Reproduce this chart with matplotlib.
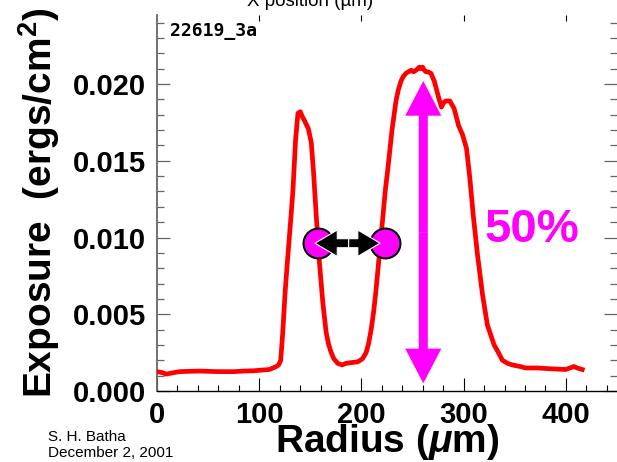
import matplotlib
matplotlib.use("Agg")
import matplotlib.pyplot as plt
from matplotlib.patches import FancyArrowPatch
from matplotlib.ticker import MultipleLocator, FormatStrFormatter

plt.rcParams['font.family'] = ['Liberation Sans', 'DejaVu Sans']
plt.rcParams['mathtext.fontset'] = 'custom'
plt.rcParams['mathtext.rm'] = 'Liberation Sans:bold'
plt.rcParams['mathtext.bf'] = 'Liberation Sans:bold'
plt.rcParams['mathtext.it'] = 'Liberation Sans:bold:italic'

# ---- data ----
radius = [0, 5, 9, 15, 22, 30, 42, 55, 65, 75, 85, 95, 104, 110, 116.8, 119, 121,
          123, 125.5, 128, 131, 133, 135.6, 137.9, 140.2, 142, 144.4, 148, 150.9,
          153.2, 155.8, 159, 162.3, 165.5, 168, 170.4, 173, 176.9, 181, 185, 190,
          196.4, 201, 204.6, 207, 209.5, 212, 214.3, 219.2, 223.4, 225.7, 229.9,
          233.8, 236, 238.7, 241, 243.6, 246, 248.5, 251, 253.4, 256.6, 258, 259.8,
          261.5, 263.1, 265, 268, 271.2, 274.4, 276.5, 278.3, 280.5, 282.6, 286.5,
          290.7, 295, 298.9, 302.8, 306, 309.3, 313.5, 318.4, 323.2, 329.8, 334,
          337.9, 343, 347.6, 355, 360.7, 372, 385, 399.7, 404, 407.8, 411, 416]
exposure = [0.00126, 0.00120, 0.00110, 0.00118, 0.00126, 0.00128, 0.00130, 0.00127,
            0.00126, 0.00126, 0.00130, 0.00132, 0.00137, 0.00140, 0.00160, 0.00170,
            0.00200, 0.00380, 0.00660, 0.00880, 0.01130, 0.01310, 0.01640, 0.01810,
            0.01820, 0.01790, 0.01760, 0.01710, 0.01620, 0.01420, 0.01140, 0.00830,
            0.00570, 0.00380, 0.00300, 0.00250, 0.00210, 0.00180, 0.00170, 0.00180,
            0.00185, 0.00190, 0.00210, 0.00250, 0.00310, 0.00400, 0.00520, 0.00660,
            0.01010, 0.01310, 0.01440, 0.01700, 0.01890, 0.01960, 0.02020, 0.02050,
            0.02070, 0.02080, 0.02090, 0.02080, 0.02090, 0.02110, 0.02100, 0.02110,
            0.02090, 0.02080, 0.02080, 0.02070, 0.02020, 0.01940, 0.01890, 0.01850,
            0.01880, 0.01890, 0.01890, 0.01840, 0.01730, 0.01670, 0.01580, 0.01390,
            0.01150, 0.00890, 0.00630, 0.00430, 0.00300, 0.00250, 0.00200, 0.00180,
            0.00170, 0.00160, 0.00150, 0.00150, 0.00145, 0.00140, 0.00150, 0.00160,
            0.00150, 0.00140]

marker_x = [157.4, 223.4]          # half-width points (µm)
marker_y = 0.00963                  # exposure at half max
width_arrow_x = [154.6, 187.5, 218.2]   # left tip, centre, right tip
peak_x = 260.5                      # position of the 50% arrow
arrow_y = [0.0005, 0.0202]
label_50 = "50%"
xticks = [0, 100, 200, 300, 400]
yticks = [0.000, 0.005, 0.010, 0.015, 0.020]

fig = plt.figure(figsize=(6.17, 4.62), dpi=100)
ax = fig.add_axes([157 / 617, 71 / 462, 460 / 617, 376 / 462])
ax.set_xlim(0, 450)
ax.set_ylim(0, 0.0245)

ax.plot(radius, exposure, color='#ff0000', lw=3.4, zorder=3, solid_joinstyle='round')

# markers
ax.plot(marker_x, [marker_y, marker_y], 'o', ms=21.5, mfc='#ff00ff', mec='black',
        mew=1.5, zorder=4)

# black double arrow between markers
for tip in (width_arrow_x[0], width_arrow_x[2]):
    a = FancyArrowPatch((width_arrow_x[1], marker_y), (tip, marker_y),
                        arrowstyle='simple,head_length=16,head_width=19,tail_width=6.5',
                        mutation_scale=1, shrinkA=0, shrinkB=0,
                        facecolor='black', edgecolor='white', lw=0.8, zorder=5)
    ax.add_patch(a)

# magenta vertical double arrow
ymid = (arrow_y[0] + arrow_y[1]) / 2
for tip in arrow_y:
    a = FancyArrowPatch((peak_x, ymid), (peak_x, tip),
                        arrowstyle='simple,head_length=25,head_width=26,tail_width=6.5',
                        mutation_scale=1, shrinkA=0, shrinkB=0,
                        facecolor='#ff00ff', edgecolor='none', zorder=2)
    ax.add_patch(a)

ax.text(366.5, 0.00974, label_50, color='#ff00ff', fontsize=34, fontweight='bold',
        ha='center', va='baseline')

ax.text(12.7, 0.02311, "22619_3a", family=['DejaVu Sans Mono'], fontweight='bold',
        fontsize=13, ha='left', va='baseline')

# axes styling
for s in ('top', 'right'):
    ax.spines[s].set_visible(False)
ax.spines['left'].set_color('#666666')
ax.spines['left'].set_linewidth(1.3)
ax.spines['bottom'].set_color('black')
ax.spines['bottom'].set_linewidth(1.0)

ax.set_xticks(xticks)
ax.xaxis.set_minor_locator(MultipleLocator(20))
ax.set_yticks(yticks)
ax.yaxis.set_minor_locator(MultipleLocator(0.001))
ax.yaxis.set_major_formatter(FormatStrFormatter('%.3f'))

ax.tick_params(axis='x', which='major', direction='in', length=9.5, width=0.8,
               color='black', labelsize=21, pad=7)
ax.tick_params(axis='x', which='minor', direction='in', length=4.5, width=0.8,
               color='black')
ax.tick_params(axis='y', which='major', direction='in', length=9.5, width=0.9,
               color='#666666', labelsize=21, pad=8, right=True)
ax.tick_params(axis='y', which='minor', direction='in', length=5, width=0.9,
               color='#666666', right=True)
for lab in ax.get_xticklabels() + ax.get_yticklabels():
    lab.set_fontweight('bold')

# top axis ticks (only majors)
sec = ax.secondary_xaxis('top')
sec.set_xticks([100, 200, 300, 400])
sec.set_xticklabels([])
sec.tick_params(direction='in', length=4, width=0.8, color='black')
sec.spines['top'].set_visible(False)

ax.set_xlabel(r'Radius ($\mu$m)', fontsize=28, fontweight='bold', va='top')
ax.xaxis.set_label_coords(0.5, -0.083)
ax.set_ylabel(r'Exposure  (ergs/cm$^{2}$)', fontsize=28, fontweight='bold')
ax.yaxis.set_label_coords(-0.2065, 0.500)

fig.text(310 / 617, 1 - 6 / 462, "X position (\u00b5m)", fontsize=13.5,
         ha='center', va='baseline')

fig.text(48 / 617, 1 - 441 / 462, "S. H. Batha", fontsize=11, ha='left', va='baseline')
fig.text(48 / 617, 1 - 457 / 462, "December 2, 2001", fontsize=11, ha='left',
         va='baseline')

fig.savefig('out.png', dpi=100)
